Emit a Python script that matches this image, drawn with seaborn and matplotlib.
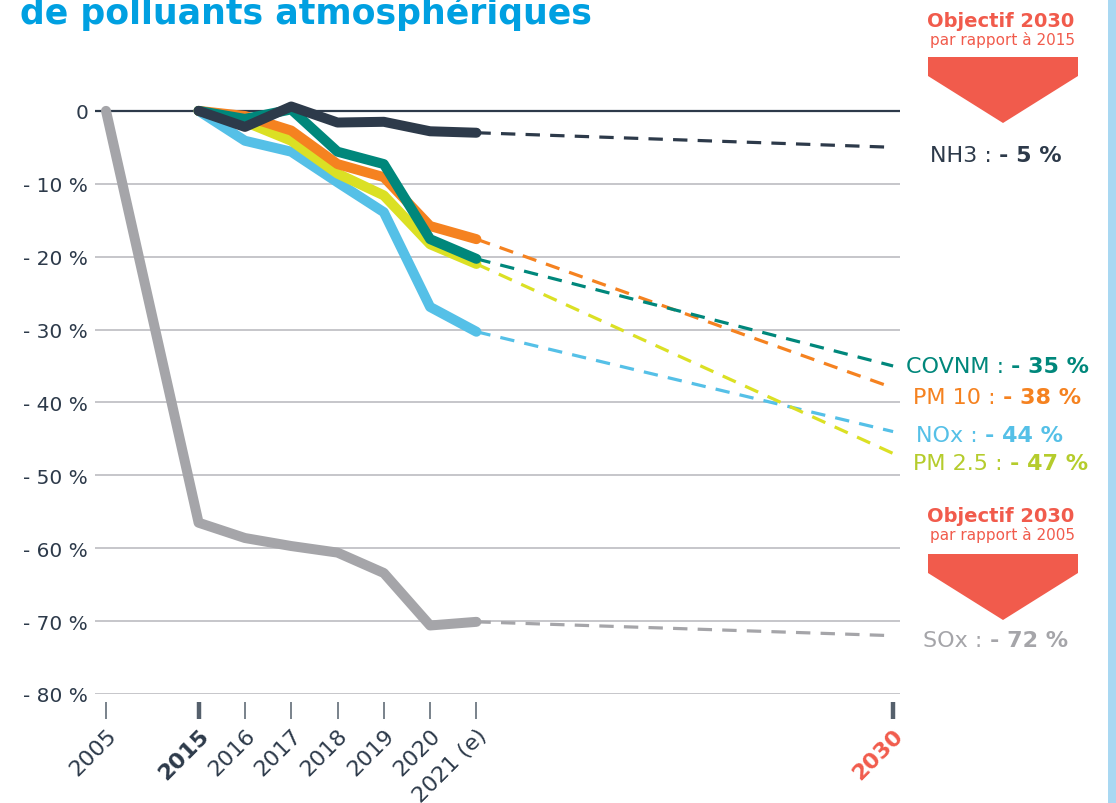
import matplotlib
matplotlib.use('Agg')
import matplotlib.pyplot as plt
import seaborn as sns
import pandas as pd
from matplotlib.patches import Polygon, Rectangle

# Evolution des émissions (%), 2005 et 2015 = 0
annees = ['2005', '2015', '2016', '2017', '2018', '2019', '2020', '2021 (e)', '2030']
positions = [-2, 0, 1, 2, 3, 4, 5, 6, 15]   # 2005 rapproché de 2015 sur l'axe

polluants = ['SOx', 'NOx', 'PM 2.5', 'PM 10', 'COVNM', 'NH3']
sox = [0, -56.5, -58.6, -59.7, -60.6, -63.4, -70.6, -70.1]
nox = [0, -4.1, -5.6, -9.8, -13.9, -26.9, -30.3]
pm25 = [0, -1.5, -4.1, -8.6, -11.6, -18.3, -21.0]
pm10 = [0, -0.7, -2.7, -7.3, -9.1, -15.8, -17.6]
covnm = [0, -1.1, 0.2, -5.6, -7.3, -17.6, -20.3]
nh3 = [0, -2.2, 0.6, -1.6, -1.5, -2.8, -3.0]
objectifs = [-72, -44, -47, -38, -35, -5]

couleurs = {'SOx': '#a5a5a9', 'NOx': '#55c0e7', 'PM 2.5': '#dbe024',
            'PM 10': '#f58220', 'COVNM': '#00877b', 'NH3': '#2d3a4a'}
couleurs_txt = {'SOx': '#a5a5a9', 'NOx': '#55c0e7', 'PM 2.5': '#b5cc2c',
                'PM 10': '#f58220', 'COVNM': '#00877b', 'NH3': '#2d3a4a'}
# position des étiquettes (x en unités d'axe, y = ligne de base en %)
etiq_x = {'SOx': 15.65, 'NOx': 15.49, 'PM 2.5': 15.43, 'PM 10': 15.43, 'COVNM': 15.28, 'NH3': 15.80}
etiq_y = {'SOx': -73.4, 'NOx': -45.3, 'PM 2.5': -49.1, 'PM 10': -40.05, 'COVNM': -35.8, 'NH3': -6.86}

rouge = '#f15b4c'
bleu = '#00a0e1'
marine = '#2d3a4a'

series = {'SOx': sox, 'NOx': nox, 'PM 2.5': pm25, 'PM 10': pm10, 'COVNM': covnm, 'NH3': nh3}

# Tables longues
lignes = []
proj = []
for p in polluants:
    vals = series[p]
    xs = positions[:8] if len(vals) == 8 else positions[1:8]
    for x, v in zip(xs, vals):
        lignes.append({'polluant': p, 'x': x, 'val': v})
    proj.append({'polluant': p, 'x': positions[7], 'val': vals[-1]})
    proj.append({'polluant': p, 'x': positions[8], 'val': objectifs[polluants.index(p)]})
df = pd.DataFrame(lignes)
df_proj = pd.DataFrame(proj)

sns.set_style('white')
plt.rcParams['font.family'] = ['DejaVu Sans']

fig = plt.figure(figsize=(11.16, 8.04), dpi=100)
ax = fig.add_axes([95 / 1116, 1 - 695 / 804, 805 / 1116, 605 / 804])

sns.lineplot(data=df_proj, x='x', y='val', hue='polluant', hue_order=polluants,
             palette=couleurs, linewidth=2.3, linestyle=(0, (4.5, 3.2)),
             legend=False, ax=ax, zorder=3)
sns.lineplot(data=df, x='x', y='val', hue='polluant', hue_order=polluants,
             palette=couleurs, linewidth=7.2, legend=False, ax=ax, zorder=4,
             solid_capstyle='round', solid_joinstyle='round')

ax.set_xlim(-2.2376, 15.149)
ax.set_ylim(-80, 3)
for s in ['top', 'right', 'left', 'bottom']:
    ax.spines[s].set_visible(False)
ax.spines['bottom'].set_position(('outward', 6))

# axe y
yt = list(range(-80, 1, 10))
ax.set_yticks(yt)
ax.set_yticklabels(['0' if v == 0 else f'- {abs(v)} %' for v in yt],
                   fontsize=14.5, color=marine)
ax.tick_params(axis='y', length=0, pad=5)
ax.grid(axis='y', color='#c6c6ca', linewidth=1.4)
ax.grid(axis='x', visible=False)
ax.set_axisbelow(True)
ax.axhline(0, color=marine, linewidth=1.6, zorder=2)

# axe x
ax.set_xticks(positions)
ax.set_xticklabels(annees, rotation=45, ha='right', va='top',
                   rotation_mode='anchor', fontsize=16, color=marine)
ax.tick_params(axis='x', bottom=True, direction='out', length=12, width=1.1,
               color='#55606c', pad=4)
ax.set_xlabel('')
ax.set_ylabel('')
ticks = ax.xaxis.get_major_ticks()
ticks[1].tick1line.set_markeredgewidth(3.2)
ticks[1].tick1line.set_color(marine)
ticks[1].label1.set_fontweight('bold')
ticks[-1].tick1line.set_markeredgewidth(3.2)
ticks[-1].tick1line.set_color(rouge)
ticks[-1].label1.set_fontweight('bold')
ticks[-1].label1.set_color(rouge)

# étiquettes des objectifs
for p in polluants:
    i = polluants.index(p)
    t = ax.text(etiq_x[p], etiq_y[p], f'{p} : ', fontsize=16,
                color=couleurs_txt[p], va='baseline', ha='left')
    ax.annotate(f'- {abs(objectifs[i])} %', xy=(1, 0), xycoords=t,
                fontsize=16, fontweight='bold', color=couleurs_txt[p],
                va='bottom', ha='left')

# titre (coupé en haut)
fig.text(20 / 1116, 1 - 24 / 804, 'de polluants atmosphériques', fontsize=25,
         fontweight='bold', color=bleu, va='baseline', ha='left')

# encadrés objectif 2030
def px(x, y):
    return (x / 1116, 1 - y / 804)

for y0, ref in [(0, '2015'), (497, '2005')]:
    fig.text(*px(1001, 27 + y0 - (2 if y0 else 0)), 'Objectif 2030', fontsize=14,
             fontweight='bold', color=rouge, ha='center', va='baseline')
    fig.text(*px(1002, 45 + y0 - (2 if y0 else 0)), f'par rapport à {ref}', fontsize=11,
             color=rouge, ha='center', va='baseline')
    pts = [px(928, 58 + y0), px(1078, 58 + y0), px(1078, 77 + y0),
           px(1003, 124 + y0), px(928, 77 + y0)]
    fig.patches.append(Polygon(pts, closed=True, facecolor=rouge, edgecolor='none',
                               transform=fig.transFigure, figure=fig))

# bande bleue à droite
fig.patches.append(Rectangle((1108 / 1116, 0), 8 / 1116, 1, facecolor='#a9d8f2',
                             edgecolor='none', transform=fig.transFigure, figure=fig))

fig.savefig('out.png', dpi=100)
